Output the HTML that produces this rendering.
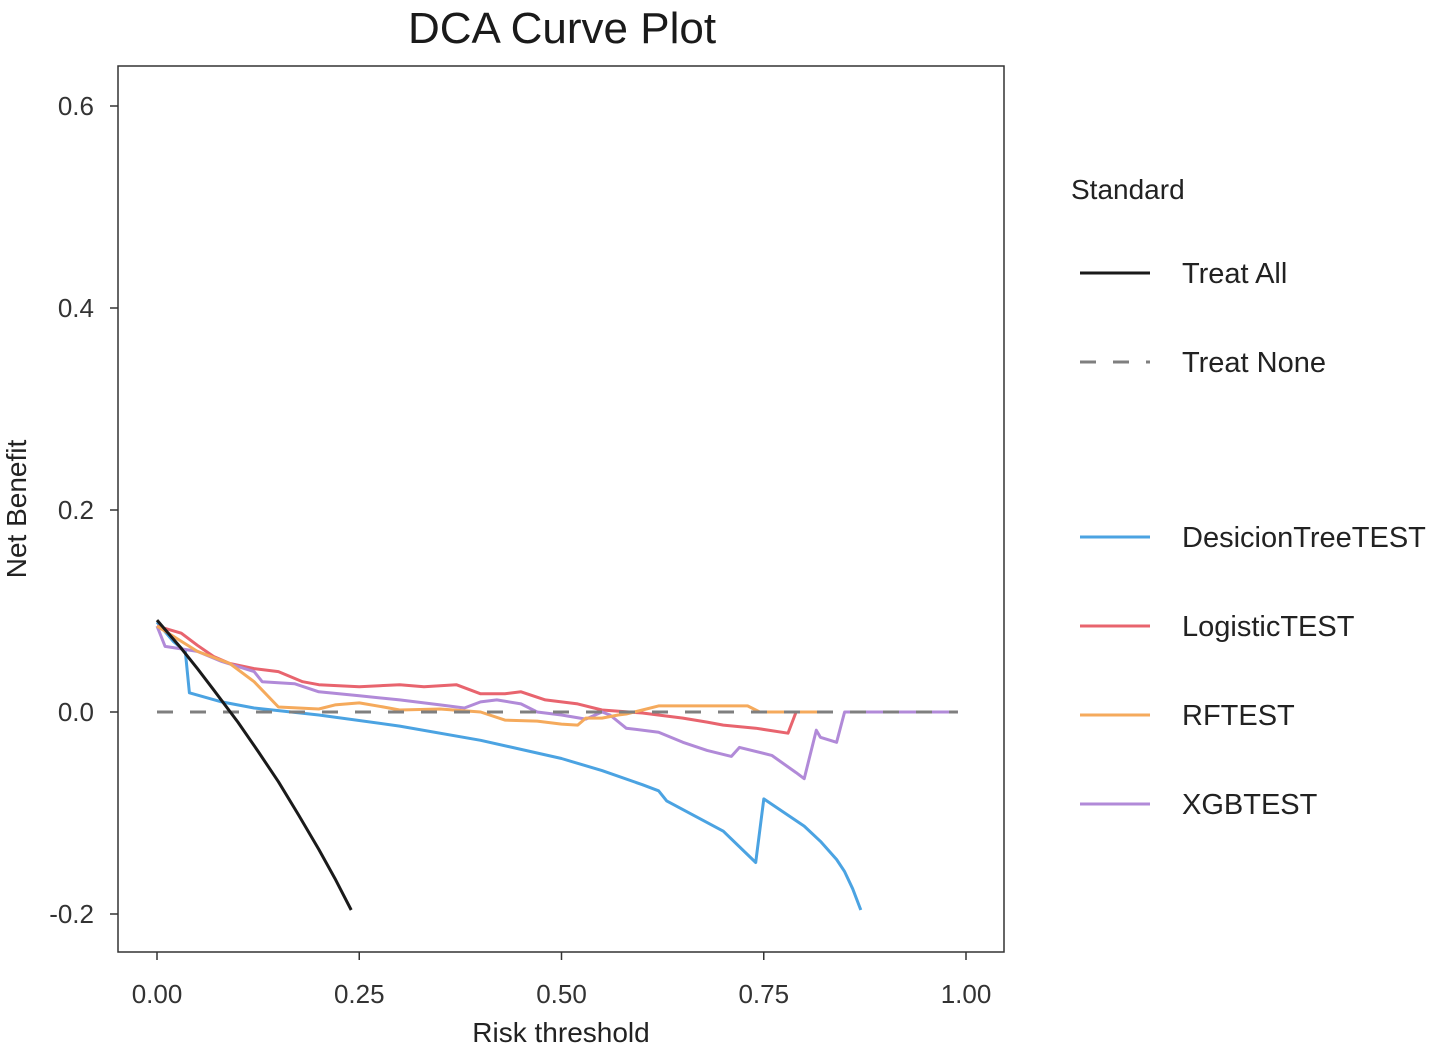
<!DOCTYPE html>
<html><head><meta charset="utf-8"><style>
body{margin:0;background:#fff;}
svg{display:block;font-family:"Liberation Sans",sans-serif;}
</style></head><body>
<svg id="chart" width="1450" height="1050">
<text x="562" y="43" font-size="44" text-anchor="middle" fill="#1a1a1a">DCA Curve Plot</text>
<rect x="118" y="66" width="886" height="886" fill="none" stroke="#333" stroke-width="1.5"/>
<g id="axes"></g>
<g id="series"></g>
<text x="561" y="1042" font-size="28" text-anchor="middle" fill="#222">Risk threshold</text>
<text transform="translate(26,509) rotate(-90)" font-size="28" text-anchor="middle" fill="#222">Net Benefit</text>
<g id="legend"></g>
</svg>
<script>
const xTicks=[0,0.25,0.5,0.75,1.0];
const xTickLabels=["0.00","0.25","0.50","0.75","1.00"];
const yTicks=[-0.2,0,0.2,0.4,0.6];
const yTickLabels=["-0.2","0.0","0.2","0.4","0.6"];
const treatAllX=[0,0.03,0.05,0.07,0.1,0.125,0.15,0.175,0.2,0.22,0.24];
const treatAllY=[0.091,0.063,0.043,0.022,-0.010,-0.039,-0.069,-0.102,-0.136,-0.165,-0.196];
const treatNoneX=[0,0.99];
const treatNoneY=[0,0];
const dtX=[0,0.02,0.035,0.04,0.08,0.12,0.2,0.3,0.4,0.5,0.55,0.6,0.62,0.63,0.7,0.74,0.75,0.8,0.82,0.84,0.85,0.86,0.87];
const dtY=[0.089,0.070,0.060,0.019,0.010,0.004,-0.003,-0.014,-0.028,-0.046,-0.058,-0.072,-0.078,-0.088,-0.118,-0.149,-0.086,-0.113,-0.128,-0.146,-0.158,-0.175,-0.196];
const lrX=[0,0.03,0.05,0.07,0.09,0.12,0.15,0.18,0.2,0.25,0.3,0.33,0.37,0.4,0.43,0.45,0.48,0.52,0.55,0.6,0.65,0.68,0.7,0.74,0.78,0.79,0.83];
const lrY=[0.085,0.078,0.066,0.055,0.048,0.043,0.040,0.030,0.027,0.025,0.027,0.025,0.027,0.018,0.018,0.020,0.012,0.008,0.002,-0.001,-0.006,-0.010,-0.013,-0.016,-0.021,0,0];
const rfX=[0,0.05,0.09,0.12,0.15,0.2,0.22,0.25,0.28,0.3,0.35,0.4,0.43,0.47,0.5,0.52,0.53,0.55,0.57,0.58,0.6,0.62,0.73,0.745,0.83];
const rfY=[0.085,0.060,0.048,0.030,0.005,0.003,0.007,0.009,0.005,0.002,0.003,0,-0.008,-0.009,-0.012,-0.013,-0.006,-0.006,-0.003,-0.002,0.002,0.006,0.006,0,0];
const xgbX=[0,0.01,0.05,0.08,0.12,0.13,0.17,0.2,0.25,0.3,0.35,0.38,0.4,0.42,0.45,0.47,0.5,0.53,0.55,0.56,0.58,0.62,0.65,0.68,0.71,0.72,0.76,0.79,0.80,0.815,0.82,0.84,0.85,0.99];
const xgbY=[0.085,0.065,0.060,0.050,0.040,0.030,0.028,0.020,0.016,0.012,0.007,0.004,0.010,0.012,0.008,0,-0.003,-0.007,0,-0.003,-0.016,-0.020,-0.030,-0.038,-0.044,-0.035,-0.043,-0.060,-0.066,-0.018,-0.025,-0.030,0,0];

const NS="http://www.w3.org/2000/svg";
const xS=v=>157+v*809;
const yS=v=>712-v*1010;
function mk(tag,attrs,parent){const e=document.createElementNS(NS,tag);for(const k in attrs)e.setAttribute(k,attrs[k]);parent.appendChild(e);return e;}
const axes=document.getElementById('axes');
xTicks.forEach((t,i)=>{
  const l=mk('line',{x1:xS(t),x2:xS(t),y1:952,y2:960,stroke:'#333','stroke-width':1.5},axes);
  
  
  const tx=mk('text',{x:xS(t),y:1003,'font-size':26,'text-anchor':'middle',fill:'#333'},axes);
  tx.textContent=xTickLabels[i];
  
  
});
yTicks.forEach((t,i)=>{
  const l=mk('line',{x1:110,x2:118,y1:yS(t),y2:yS(t),stroke:'#333','stroke-width':1.5},axes);
  
  
  const tx=mk('text',{x:94,y:yS(t)+9,'font-size':26,'text-anchor':'end',fill:'#333'},axes);
  tx.textContent=yTickLabels[i];
  
  
});
const series=document.getElementById('series');
function line(xs,ys,color,name,dash){
  const d=xs.map((x,i)=>(i?'L':'M')+xS(x).toFixed(1)+','+yS(ys[i]).toFixed(1)).join('');
  const p=mk('path',{d:d,fill:'none',stroke:color,'stroke-width':3,'stroke-linejoin':'round'},series);
  if(dash)p.setAttribute('stroke-dasharray',dash);
  
  
}
line(dtX,dtY,'#4ba3e2','line-decision-tree');
line(lrX,lrY,'#e8646e','line-logistic');
line(xgbX,xgbY,'#b18ad8','line-xgb');
line(rfX,rfY,'#f5aa5c','line-rf');
line(treatNoneX,treatNoneY,'#7f7f7f','line-treat-none','16,17');
line(treatAllX,treatAllY,'#1a1a1a','line-treat-all');

const legend=document.getElementById('legend');
const lt=mk('text',{x:1071,y:199,'font-size':28,fill:'#222'},legend);
lt.textContent='Standard';


const legItems=[["Treat All",'#1a1a1a',273,null],["Treat None",'#7f7f7f',362,'16,17'],["DesicionTreeTEST",'#4ba3e2',537,null],["LogisticTEST",'#e8646e',626,null],["RFTEST",'#f5aa5c',715,null],["XGBTEST",'#b18ad8',804,null]];
legItems.forEach(it=>{
  const g=mk('g',{},legend);
  
  
  const l=mk('line',{x1:1080,x2:1150,y1:it[2],y2:it[2],stroke:it[1],'stroke-width':3},g);
  if(it[3])l.setAttribute('stroke-dasharray',it[3]);
  const t=mk('text',{x:1182,y:it[2]+10,'font-size':29,fill:'#222'},g);
  t.textContent=it[0];
});
</script>
</body></html>
